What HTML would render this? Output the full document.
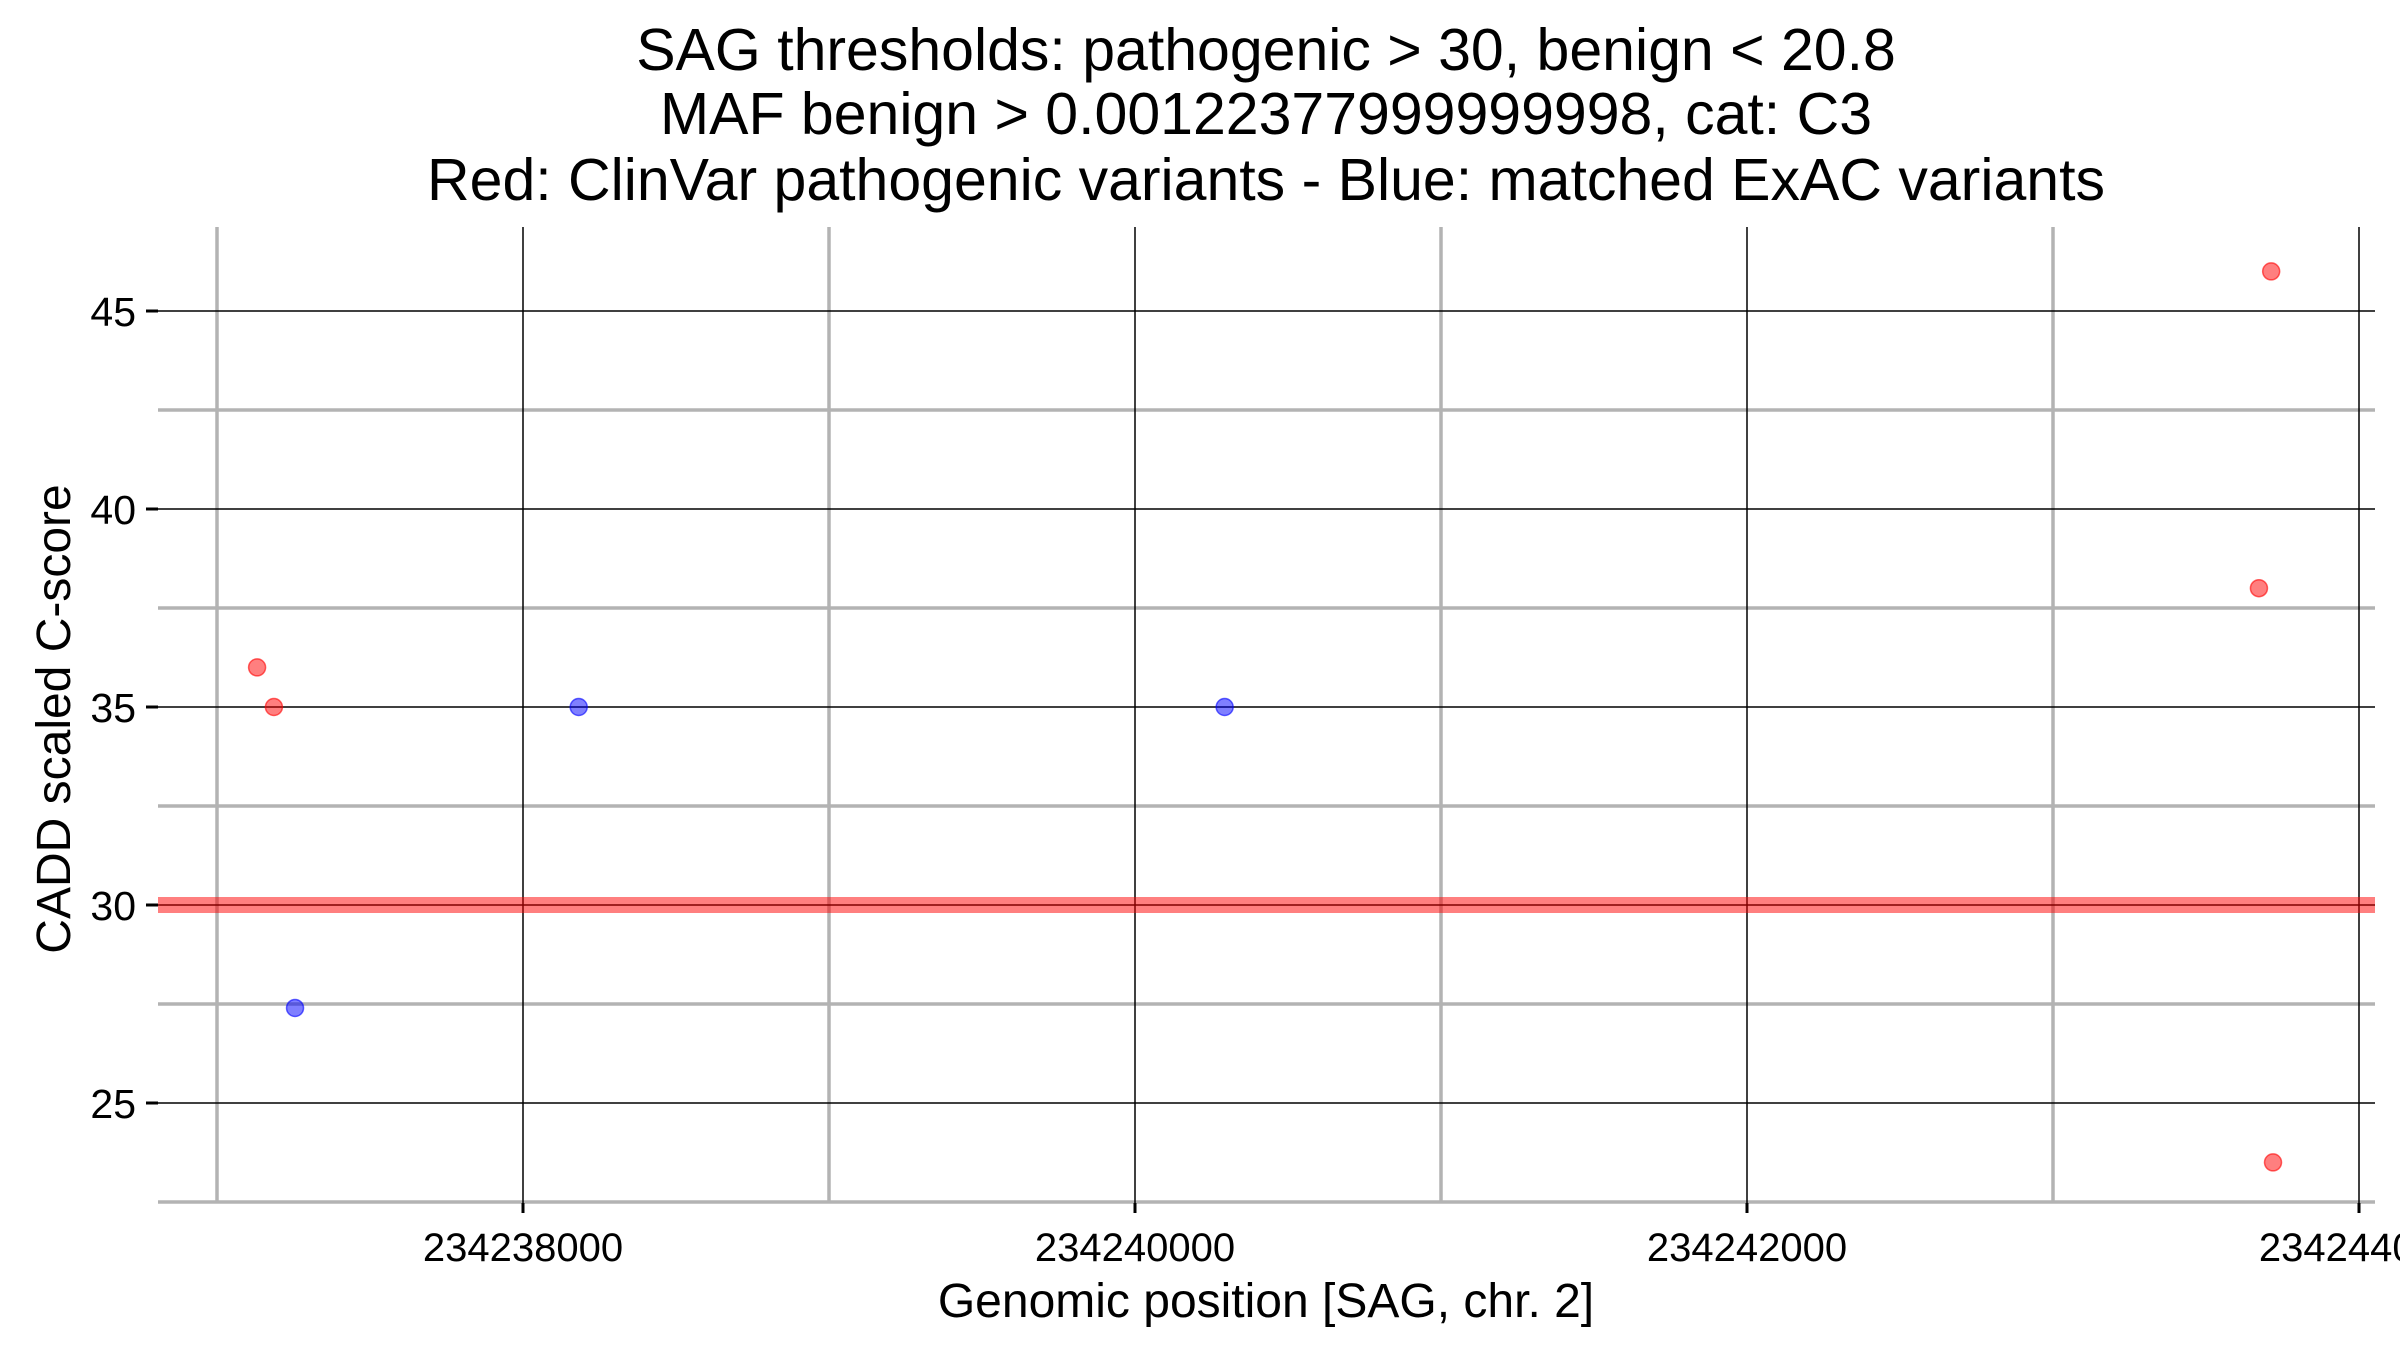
<!DOCTYPE html>
<html><head><meta charset="utf-8"><style>
html,body{margin:0;padding:0;background:#fff;}
svg{display:block;font-family:"Liberation Sans",Arial,sans-serif;}
</style></head><body>
<svg id="chart" width="2400" height="1350" viewBox="0 0 2400 1350">
<g font-size="59" text-anchor="middle" fill="#000">
<text x="1266" y="70">SAG thresholds: pathogenic &gt; 30, benign &lt; 20.8</text>
<text x="1266" y="134">MAF benign &gt; 0.00122377999999998, cat: C3</text>
<text x="1266" y="200">Red: ClinVar pathogenic variants - Blue: matched ExAC variants</text>
</g>
<g id="grid"></g>
<g id="marks"></g>
<g id="axes"></g>
<text x="1266" y="1317" font-size="48" text-anchor="middle">Genomic position [SAG, chr. 2]</text>
<text transform="translate(70,719) rotate(-90)" font-size="48" text-anchor="middle">CADD scaled C-score</text>
</svg>
<script>
const redX = [234237131, 234237186, 234243713, 234243673, 234243719];
const redY = [36, 35, 46, 38, 23.5];
const blueX = [234237255, 234238182, 234240293];
const blueY = [27.4, 35, 35];
const xTicks = [234238000, 234240000, 234242000, 234244000];
const xMinor = [234237000, 234239000, 234241000, 234243000];
const yTicks = [25, 30, 35, 40, 45];
const yMinor = [22.5, 27.5, 32.5, 37.5, 42.5];
const threshold = [30];

const L=158, R=2375, T=227, B=1203;
const X0=234238000, X1=234244000, PX0=523, PX1=2359;
const Y0=25, Y1=45, PY0=1103, PY1=311;
function xs(v){return PX0+(v-X0)*(PX1-PX0)/(X1-X0);}
function ys(v){return PY0+(v-Y0)*(PY1-PY0)/(Y1-Y0);}
const NS="http://www.w3.org/2000/svg";
function mk(tag,attrs,parent){const e=document.createElementNS(NS,tag);for(const k in attrs)e.setAttribute(k,attrs[k]);parent.appendChild(e);return e;}
const grid=document.getElementById('grid'), marks=document.getElementById('marks'), axes=document.getElementById('axes');
yMinor.forEach(v=>{const e=mk('line',{x1:L,x2:R,y1:ys(v),y2:ys(v),stroke:'#b3b3b3','stroke-width':3.5},grid);

});
xMinor.forEach(v=>{const e=mk('line',{x1:xs(v),x2:xs(v),y1:T,y2:B,stroke:'#b3b3b3','stroke-width':3.5},grid);

});
yTicks.forEach(v=>{const e=mk('line',{x1:L,x2:R,y1:ys(v),y2:ys(v),stroke:'#000','stroke-width':1.5},grid);


const t=mk('line',{x1:146,x2:158,y1:ys(v),y2:ys(v),stroke:'#000','stroke-width':3},axes);


const l=mk('text',{x:136,y:ys(v)+15,'font-size':41,'text-anchor':'end'},axes);l.textContent=v;

});
xTicks.forEach(v=>{const e=mk('line',{x1:xs(v),x2:xs(v),y1:T,y2:B,stroke:'#000','stroke-width':1.5},grid);


const t=mk('line',{x1:xs(v),x2:xs(v),y1:B,y2:B+10,stroke:'#000','stroke-width':3},axes);


const l=mk('text',{x:xs(v),y:B+58,'font-size':40,'text-anchor':'middle'},axes);l.textContent=v;

});
threshold.forEach(v=>{const e=mk('line',{x1:L,x2:R,y1:ys(v),y2:ys(v),stroke:'#ff0000','stroke-opacity':0.5,'stroke-width':16},marks);

});
redX.forEach((x,i)=>{const c=mk('circle',{cx:xs(x),cy:ys(redY[i]),r:8.5,fill:'rgba(255,0,0,0.5)',stroke:'rgba(255,0,0,0.6)','stroke-width':1.5},marks);

});
blueX.forEach((x,i)=>{const c=mk('circle',{cx:xs(x),cy:ys(blueY[i]),r:8.5,fill:'rgba(0,0,255,0.5)',stroke:'rgba(0,0,255,0.6)','stroke-width':1.5},marks);

});
</script>
</body></html>
